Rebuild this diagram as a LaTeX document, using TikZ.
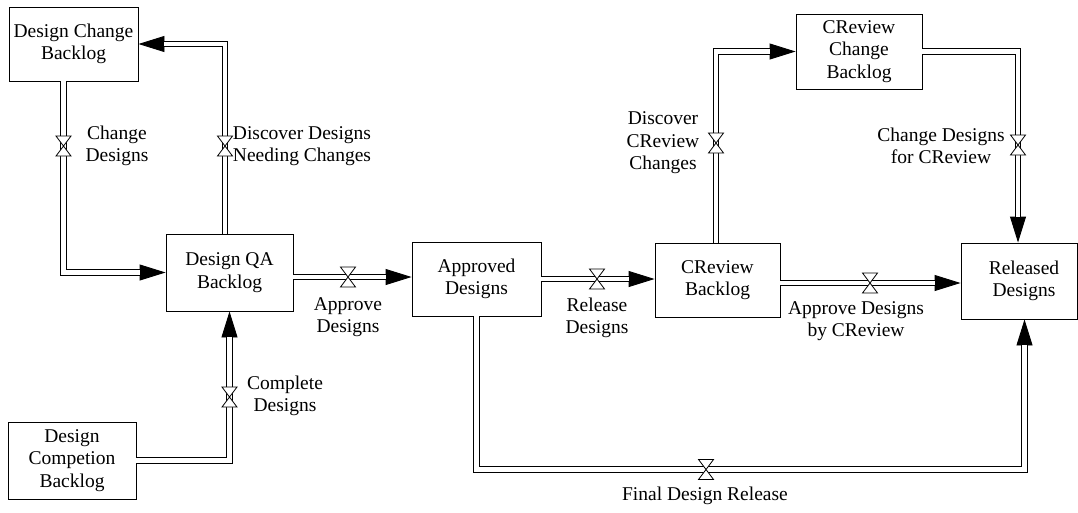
\documentclass[tikz,border=0pt]{standalone}
\usepackage{fontspec}
\setmainfont{Liberation Serif}
\usetikzlibrary{arrows.meta}

% a flow: single line carrying the arrow head, then the double pipe over it
\newcommand\flowpipe[1]{%
  \draw[arrowline] #1;
  \draw[pipe, shorten >=26pt] #1;}

\begin{document}
\begin{tikzpicture}[x=1pt, y=-1pt,
  every node/.style={font=\fontsize{19.5}{22.5}\selectfont},
  stock/.style={draw, line width=0.9pt, align=center, inner sep=0pt},
  lbl/.style={align=center, inner sep=0pt},
  pipe/.style={draw, line width=0.9pt, double=white, double distance=4.5pt},
  arrowline/.style={draw, line width=0.9pt, -{Triangle[length=26pt, width=16pt]}},
  valve/.pic={\draw[fill=white, line width=0.8pt]
     (-7.5,-10) -- (7.5,-10) -- (-7.5,10) -- (7.5,10) -- cycle;}]

\useasboundingbox (0,0) rectangle (1078,512);

% stocks
\node[stock, minimum width=129pt, minimum height=74pt] (dcb)  at (73.5,44)    {Design Change\\Backlog};
\node[stock, minimum width=127pt, minimum height=77pt] (qa)   at (229.5,272.5) {Design QA\\Backlog};
\node[stock, minimum width=128pt, minimum height=77pt] (comp) at (72,460.5)   {Design\\Competion\\Backlog};
\node[stock, minimum width=129pt, minimum height=74pt] (appr) at (476.5,279)  {Approved\\Designs};
\node[stock, minimum width=125pt, minimum height=74pt] (crb)  at (717.5,280)  {CReview\\Backlog};
\node[stock, minimum width=126pt, minimum height=75pt] (crcb) at (859,51.5)   {CReview\\Change\\Backlog};
\node[stock, minimum width=116pt, minimum height=76pt] (rel)  at (1019,281)   {\hspace*{10pt}Released\\\hspace*{10pt}Designs};

\coordinate (low) at (1024.5,469.5);

% flows
\flowpipe{([xshift=-10pt]dcb.south) |- (qa.west)}
\flowpipe{([xshift=-4.5pt]qa.north) |- (dcb.east)}
\flowpipe{(qa.east |- 0,277) -- (appr.west |- 0,277)}
\flowpipe{(comp.east) -| (qa.south)}
\flowpipe{(appr.east) -- (crb.west |- appr.east)}
\flowpipe{(crb.east |- 0,283) -- (rel.west |- 0,283)}
\flowpipe{([xshift=-1.5pt]crb.north) |- (crcb.west)}
\flowpipe{(crcb.east) -| ([xshift=-1pt]rel.north)}
\flowpipe{(appr.south) |- (low) -- (low |- rel.south)}

% valves
\pic at (63.5,146) {valve};
\pic at (225,146) {valve};
\pic at (348,277) {valve};
\pic at (229.5,397) {valve};
\pic at (597,279) {valve};
\pic at (870,283) {valve};
\pic at (716,143) {valve};
\pic at (1018,145) {valve};
\pic at (706,469.5) {valve};

% flow names
\node[lbl] (l1) at (117,146) {Change\\Designs};
\node[lbl] (l2) at (302,146) {Discover Designs\\Needing Changes};
\node[lbl] (l3) at (348,317) {Approve\\Designs};
\node[lbl] (l4) at (285,396) {Complete\\Designs};
\node[lbl] (l5) at (597,318) {Release\\Designs};
\node[lbl] (l6) at (856,321) {Approve Designs\\by CReview};
\node[lbl] (l7) at (663,143) {Discover\\CReview\\Changes};
\node[lbl] (l8) at (941,146) {Change Designs\\for CReview};
\node[lbl] (l9) at (705,496) {Final Design Release};
\end{tikzpicture}
\end{document}
